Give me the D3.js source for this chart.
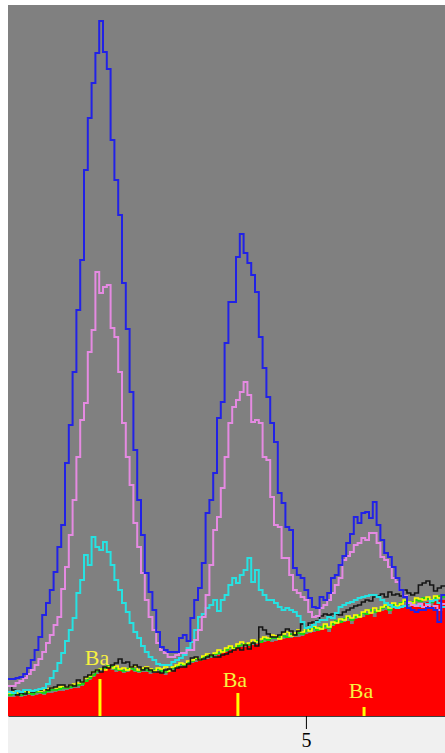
<!DOCTYPE html>
<html>
<head>
<meta charset="utf-8">
<script src="https://cdn.jsdelivr.net/npm/d3@7"></script>
<style>
  html, body { margin: 0; padding: 0; background: #fff; }
  svg { display: block; }
</style>
</head>
<body>
<script>
// channel calibration, keV
const channelStart = 4.216;
const channelWidth = 0.01;

// counts per channel for each spectrum
const blue = [37,37,38,39,42,48,56,66,79,101, 113,126,144,169,191,253,291,344,406,456,
  546,598,633,663,695,664,647,576,536,501, 433,387,324,266,216,181,143,124,106,84,
  69,66,64,64,64,78,81,75,98,116, 128,153,203,216,243,298,314,373,414,414,
  459,482,463,453,441,424,379,348,319,293, 274,223,213,189,186,148,141,138,126,118,
  109,108,119,116,123,138,141,151,160,173, 182,199,193,203,204,198,214,191,176,163,
  159,149,138,126,119,108,106,104,106,106, 108,108,106,94,121];

const violet = [30,30,33,35,38,42,46,51,57,64, 73,81,91,99,127,149,181,216,259,296,
  313,364,386,444,423,429,431,388,379,344, 293,259,231,193,169,143,116,99,86,73,
  66,63,59,59,61,63,63,66,66,76, 86,99,121,151,186,199,228,259,293,309,
  316,324,334,321,294,296,293,259,256,219, 191,189,158,158,141,126,123,119,116,104,
  99,100,108,111,116,123,131,138,156,160, 164,171,173,178,176,183,183,173,159,156,
  149,138,134,126,120,113,111,110,112,109, 111,108,110,106,112];

const cyan = [24,23,25,24,26,26,25,26,27,28, 32,38,45,53,63,75,86,98,123,136,
  161,151,179,169,166,174,164,151,136,126, 113,104,93,84,78,70,64,59,56,52,
  51,51,51,54,56,58,61,68,74,86, 99,102,108,111,116,105,116,121,131,138,
  133,141,146,158,134,146,126,121,116,116, 113,109,106,108,106,104,100,94,88,89,
  91,94,96,96,99,98,103,109,111,113, 114,116,118,119,120,121,121,119,116,113,
  111,109,108,109,110,113,111,111,110,109, 112,115,116,113,109];

const black = [30,26,21,23,22,26,24,26,26,28, 26,28,29,31,31,29,31,30,36,34,
  39,41,44,46,44,49,48,51,53,57, 53,54,49,51,49,46,48,46,44,44,
  43,46,47,45,48,49,49,52,58,59, 56,57,59,61,59,59,61,62,64,66,
  68,66,71,67,73,70,89,86,82,79, 79,81,84,87,85,81,85,92,88,93,
  94,95,100,102,101,102,102,101,104,106, 108,110,111,114,116,115,119,120,122,119,
  124,121,122,120,126,123,121,123,131,133, 135,131,125,128,130];

const red = [19,19,20,19,20,21,20,21,22,21, 23,23,24,25,25,26,27,28,28,30,
  34,36,39,42,44,47,48,46,44,45, 43,44,46,44,43,44,44,42,43,44,
  43,41,44,46,48,49,50,51,53,54, 55,56,57,58,59,61,63,64,66,67,
  68,69,69,70,71,72,73,74,75,74, 75,76,77,78,78,79,79,80,82,83,
  84,85,86,87,84,90,92,93,94,95, 92,97,98,99,101,102,99,104,105,106,
  102,108,109,110,111,107,112,112,113,113, 114,110,115,116,116];

const green = [21,22,22,21,23,23,22,24,24,23, 25,26,26,27,28,28,29,30,31,32,
  35,38,41,45,47,48,50,49,47,46, 45,47,48,46,45,47,46,45,46,47,
  45,44,46,48,50,52,51,53,55,57, 57,59,60,60,62,63,65,66,69,68,
  70,71,72,71,73,75,74,77,76,78, 78,79,80,79,82,81,83,82,85,86,
  88,86,89,90,88,92,95,94,97,99, 96,99,101,103,102,106,104,106,108,110,
  106,111,110,113,115,112,114,116,115,118, 117,114,118,120,119];

const yellow = [23,24,23,24,25,24,25,26,25,26, 27,28,28,29,30,29,31,32,33,34,
  38,40,44,46,47,46,49,48,50,47, 48,46,49,50,46,48,49,47,45,48,
  47,49,45,49,51,53,52,55,56,58, 56,60,62,61,63,66,64,68,70,67,
  72,74,71,73,76,74,77,79,78,81, 80,77,82,84,80,83,86,84,88,85,
  90,88,87,92,89,94,93,97,96,100, 98,101,99,104,106,103,108,105,109,111,
  108,113,110,112,116,114,113,118,117,116, 119,116,120,118,121];

// Ba line markers
const baEnergies = [4.458, 4.821, 5.153];
const baHeights = [37, 23, 9];
const baLabelAt = [51, 29, 18];
const baLabel = "Ba";

const xTicks = [5];

const W = 445, H = 753;
const margin = {left: 8, right: 445, top: 5, bottom: 716};

const svg = d3.select("body").append("svg")
    .attr("width", W)
    .attr("height", H);

// light strip under the plot
svg.append("rect")
    .attr("x", margin.left).attr("y", margin.bottom)
    .attr("width", margin.right - margin.left).attr("height", H - margin.bottom)
    .attr("fill", "#f0f0f0");

svg.append("defs").append("clipPath").attr("id", "plotclip")
  .append("rect")
    .attr("x", margin.left).attr("y", margin.top)
    .attr("width", margin.right - margin.left).attr("height", margin.bottom - margin.top);

svg.append("rect")
    .attr("x", margin.left).attr("y", margin.top)
    .attr("width", margin.right - margin.left).attr("height", margin.bottom - margin.top)
    .attr("fill", "#808080");

const x = d3.scaleLinear()
    .domain([channelStart, channelStart + blue.length * channelWidth])
    .range([margin.left, margin.right]);

const y = d3.scaleLinear()
    .domain([0, 711])
    .range([margin.bottom, margin.top]);

function steps(arr) {
    const pts = arr.map((v, i) => [channelStart + i * channelWidth, v]);
    pts.push([channelStart + arr.length * channelWidth, arr[arr.length - 1]]);
    return pts;
}

const g = svg.append("g").attr("clip-path", "url(#plotclip)");

const area = d3.area()
    .x(d => x(d[0]))
    .y0(y(0))
    .y1(d => y(d[1]))
    .curve(d3.curveStepAfter);

const line = d3.line()
    .x(d => x(d[0]))
    .y(d => y(d[1]))
    .curve(d3.curveStepAfter);

g.append("path")
    .attr("d", area(steps(red)))
    .attr("fill", "#ff0000");

const series = [
    {values: green, color: "#00e800", width: 1.6},
    {values: yellow, color: "#ffff00", width: 1.6},
    {values: black, color: "#151515", width: 1.6},
    {values: cyan, color: "#26e2e2", width: 2},
    {values: violet, color: "#e58ae2", width: 2},
    {values: blue, color: "#2222e6", width: 2}
];

g.selectAll("path.spec")
    .data(series)
  .enter().append("path")
    .attr("class", "spec")
    .attr("d", d => line(steps(d.values)))
    .attr("fill", "none")
    .attr("stroke", d => d.color)
    .attr("stroke-width", d => d.width);

// element markers
g.selectAll("line.ba")
    .data(baEnergies)
  .enter().append("line")
    .attr("class", "ba")
    .attr("x1", d => x(d)).attr("x2", d => x(d))
    .attr("y1", (d, i) => y(baHeights[i]))
    .attr("y2", y(0))
    .attr("stroke", "#ffff00")
    .attr("stroke-width", 3);

g.selectAll("text.ba")
    .data(baEnergies)
  .enter().append("text")
    .attr("class", "ba")
    .attr("x", d => x(d) - 3)
    .attr("y", (d, i) => y(baLabelAt[i]))
    .attr("text-anchor", "middle")
    .attr("font-family", "'Liberation Serif', 'Times New Roman', serif")
    .attr("font-size", 22)
    .attr("fill", "#f8f040")
    .text(baLabel);

// x axis
const axis = svg.append("g")
    .attr("transform", "translate(0," + margin.bottom + ")")
    .call(d3.axisBottom(x)
        .tickValues(xTicks)
        .tickSize(13)
        .tickSizeOuter(0)
        .tickPadding(4)
        .tickFormat(d3.format("d")));

axis.select(".domain").attr("stroke", "#404040");
axis.selectAll(".tick line").attr("stroke", "#000");
axis.selectAll(".tick text")
    .attr("fill", "#000")
    .attr("font-family", "'Liberation Serif', 'Times New Roman', serif")
    .attr("font-size", 20);
</script>
</body>
</html>
